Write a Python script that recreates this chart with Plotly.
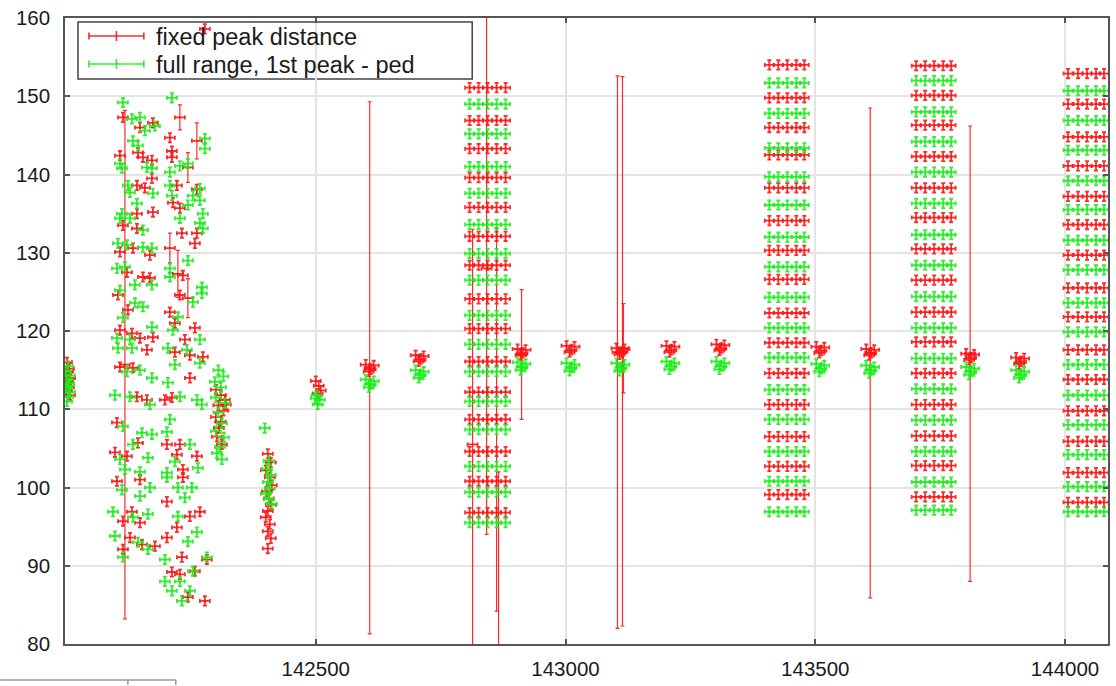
import plotly.graph_objects as go

# ---------------- data ----------------
# Scattered scan region, series "fixed peak distance"
red_spread = [
    (142114, 147.3), (142148, 146.0), (142174, 146.6), (142144, 142.8), (142108, 142.4),
    (142154, 142.2), (142172, 141.8), (142172, 139.5), (142142, 138.6), (142158, 138.3),
    (142142, 135.0), (142174, 135.2), (142208, 144.7), (142212, 143.0), (142212, 142.2),
    (142262, 138.1), (142222, 138.6), (142214, 136.4), (142228, 135.7), (142278, 158.6),
    (142114, 133.5), (142142, 133.1), (142108, 130.1), (142134, 130.6), (142168, 129.7),
    (142122, 127.5), (142154, 126.9), (142168, 126.8), (142104, 124.6), (142124, 122.7),
    (142108, 120.1), (142132, 119.7), (142148, 119.1), (142174, 119.2), (142232, 132.5),
    (142262, 132.5), (142258, 131.2), (142234, 127.1), (142228, 124.6), (142208, 122.4),
    (142218, 121.0), (142258, 120.4), (142238, 118.9), (142162, 117.6), (142108, 115.4),
    (142134, 115.3), (142142, 111.6), (142162, 111.2), (142102, 108.3), (142144, 105.7),
    (142098, 104.5), (142122, 104.0), (142218, 117.3), (142248, 116.9), (142274, 116.7),
    (142248, 114.0), (142198, 111.2), (142212, 111.5), (142202, 105.5), (142228, 105.5),
    (142262, 104.0), (142222, 104.2), (142234, 102.3), (142102, 100.8), (142148, 101.0),
    (142132, 96.9), (142114, 95.7), (142148, 95.5), (142128, 93.6), (142152, 92.7),
    (142114, 92.1), (142178, 92.5), (142234, 101.3), (142202, 98.2), (142268, 96.9),
    (142248, 96.3), (142222, 94.9), (142202, 93.6), (142232, 91.1), (142212, 89.2),
    (142258, 89.3), (142282, 90.8), (142228, 88.9), (142244, 86.0), (142278, 85.5),
]

# Scattered scan region, series "full range, 1st peak - ped"
green_spread = [
    (142114, 149.2), (142132, 147.1), (142148, 147.3), (142158, 145.6), (142178, 146.2),
    (142134, 144.3), (142144, 143.7), (142108, 141.4), (142112, 140.8), (142162, 140.9),
    (142172, 140.8), (142124, 138.6), (142128, 137.7), (142174, 137.6), (142142, 136.3),
    (142112, 135.0), (142212, 149.8), (142208, 140.3), (142208, 138.6), (142278, 144.6),
    (142278, 143.3), (142228, 141.1), (142244, 141.4), (142268, 138.2), (142254, 137.3),
    (142212, 137.3), (142268, 136.7), (142244, 136.1), (142274, 135.0),
    (142108, 134.4), (142128, 134.4), (142154, 132.9), (142104, 131.2), (142122, 131.0),
    (142154, 130.7), (142172, 130.6), (142102, 128.0), (142118, 128.2), (142172, 125.9),
    (142138, 125.9), (142108, 125.2), (142138, 123.6), (142154, 123.1), (142114, 121.7),
    (142172, 120.5), (142102, 119.1), (142128, 118.9), (142228, 134.4), (142268, 133.8),
    (142274, 133.1), (142244, 129.0), (142208, 128.0), (142208, 126.9), (142272, 125.6),
    (142272, 124.8), (142254, 123.7), (142224, 121.8), (142214, 120.1), (142268, 118.9),
    (142104, 117.8), (142132, 117.8), (142122, 114.8), (142148, 115.0), (142172, 114.0),
    (142098, 111.8), (142128, 111.6), (142168, 110.6), (142114, 107.8), (142152, 107.0),
    (142172, 106.8), (142134, 105.5), (142108, 103.6), (142164, 103.8), (142118, 102.3),
    (142148, 102.0), (142204, 117.8), (142242, 117.6), (142218, 115.7), (142268, 115.9),
    (142204, 113.4), (142228, 111.6), (142262, 111.2), (142272, 110.6), (142208, 108.7),
    (142202, 107.1), (142248, 105.5), (142218, 103.3), (142202, 101.9), (142264, 102.5),
    (142112, 99.7), (142168, 100.0), (142148, 98.9), (142094, 96.9), (142164, 96.6),
    (142134, 96.2), (142098, 93.8), (142144, 93.0), (142164, 92.1), (142114, 91.1),
    (142202, 101.3), (142224, 100.0), (142252, 100.0), (142238, 98.7), (142224, 96.3),
    (142262, 94.3), (142244, 93.1), (142198, 90.8), (142282, 91.1), (142254, 89.3),
    (142198, 88.0), (142228, 88.0), (142212, 86.8), (142248, 86.8), (142232, 85.5),
]

# Compact groups of runs
red_groups = [
    (142002, 116.0), (142006, 115.2), (142000, 114.5), (142008, 114.0), (142004, 113.6),
    (142000, 113.2), (142006, 112.8), (142002, 112.3), (142008, 111.8), (142004, 114.8),
    (142300, 112.5), (142310, 111.8), (142318, 111.2), (142305, 110.5), (142315, 109.8),
    (142300, 109.0), (142310, 108.4), (142320, 110.6), (142306, 107.6), (142312, 105.5),
    (142302, 106.5),
    (142404, 104.3), (142410, 103.2), (142400, 102.2), (142408, 101.3), (142412, 100.3),
    (142402, 99.5), (142406, 98.6), (142410, 97.8), (142404, 97.0), (142400, 96.2),
    (142408, 95.3), (142404, 94.4), (142410, 93.5), (142404, 92.2),
    (142500, 113.6), (142506, 113.0), (142510, 112.4), (142504, 112.0),
]
green_groups = [
    (142004, 115.5), (142000, 114.8), (142008, 114.3), (142002, 113.8), (142006, 113.3),
    (142000, 112.8), (142008, 112.2), (142004, 111.6), (142002, 111.0), (142006, 113.0),
    (142305, 115.0), (142315, 114.2), (142298, 113.5), (142310, 112.8), (142300, 111.5),
    (142318, 110.8), (142305, 109.6), (142312, 108.2), (142300, 107.2), (142316, 106.4),
    (142308, 105.2), (142302, 104.4), (142312, 103.6),
    (142398, 107.6), (142406, 103.4), (142402, 102.4), (142410, 101.6), (142404, 100.7),
    (142408, 99.9), (142400, 99.2), (142406, 98.5), (142412, 97.9),
    (142502, 111.8), (142508, 111.2), (142504, 110.6), (142500, 111.4),
]

# Single runs, four measurements each
red_runs = [
    (142600, 115.7), (142610, 115.1), (142616, 115.6), (142606, 114.8),
    (142700, 116.9), (142710, 116.4), (142716, 116.8), (142706, 116.1),
    (142904, 117.7), (142914, 117.2), (142920, 117.6), (142910, 116.9),
    (143002, 118.1), (143012, 117.6), (143018, 118.0), (143008, 117.3),
    (143102, 117.8), (143112, 117.3), (143118, 117.7), (143108, 117.0),
    (143202, 118.1), (143212, 117.6), (143218, 118.0), (143208, 117.3),
    (143302, 118.3), (143312, 117.8), (143318, 118.2), (143308, 117.5),
    (143502, 118.0), (143512, 117.5), (143518, 117.9), (143508, 117.2),
    (143602, 117.7), (143612, 117.2), (143618, 117.6), (143608, 116.9),
    (143802, 117.1), (143812, 116.6), (143818, 117.0), (143808, 116.3),
    (143902, 116.6), (143912, 116.1), (143918, 116.5), (143908, 115.8),
]
green_runs = [
    (142600, 113.8), (142610, 113.2), (142616, 113.6), (142606, 112.8),
    (142700, 115.0), (142710, 114.4), (142716, 114.8), (142706, 114.0),
    (142904, 116.0), (142914, 115.4), (142920, 115.8), (142910, 115.0),
    (143002, 115.9), (143012, 115.3), (143018, 115.7), (143008, 114.9),
    (143102, 115.9), (143112, 115.3), (143118, 115.7), (143108, 114.9),
    (143202, 116.1), (143212, 115.5), (143218, 115.9), (143208, 115.1),
    (143302, 116.1), (143312, 115.5), (143318, 115.9), (143308, 115.1),
    (143502, 115.8), (143512, 115.2), (143518, 115.6), (143508, 114.8),
    (143602, 115.6), (143612, 115.0), (143618, 115.4), (143608, 114.6),
    (143802, 115.4), (143812, 114.8), (143818, 115.2), (143808, 114.4),
    (143902, 115.0), (143912, 114.4), (143918, 114.8), (143908, 114.0),
]

# Points with large vertical uncertainty (x, y, dy), series "fixed peak distance"
red_wide = [
    (142118, 115.7, 32.5), (142228, 147.3, 1.6), (142262, 144.3, 2.3), (142244, 140.9, 1.9),
    (142208, 130.6, 1.9), (142224, 127.3, 3.0), (142244, 124.2, 2.5),
    (142608, 115.3, 34.0), (142912, 117.0, 8.3), (143104, 117.3, 35.3), (143114, 117.4, 35.1),
    (143116, 117.8, 5.7), (143610, 117.2, 31.3), (143810, 117.1, 29.1),
    (142814, 105.5, 27.5), (142842, 128.0, 34.0), (142862, 108.7, 24.5), (142866, 72.0, 30.0),
]

# Energy scans: channel positions and level of each row
scan1_x = [142808, 142826, 142844, 142862, 142880]
scan1_red = [151.1, 146.9, 143.3, 139.6, 135.8, 132.1, 128.4, 124.1, 120.3, 116.1,
             112.2, 108.7, 104.6, 100.8, 96.8]
scan1_green = [149.0, 145.2, 141.0, 137.6, 133.6, 129.9, 126.5, 122.0, 118.3, 114.8,
               111.0, 107.4, 102.7, 99.4, 95.5]

scan2_x = [143408, 143426, 143444, 143462, 143478]
scan2_red = [154.0, 149.8, 146.0, 142.5, 138.3, 134.1, 130.3, 126.6, 122.3, 118.5,
             114.6, 110.6, 106.5, 102.7, 99.1]
scan2_green = [151.7, 147.8, 143.4, 139.7, 136.1, 132.0, 128.2, 124.3, 120.4, 116.6,
               112.5, 108.7, 104.6, 100.8, 96.9]

scan3_x = [143702, 143720, 143738, 143756, 143772]
scan3_red = [153.9, 150.1, 146.3, 142.3, 138.3, 134.5, 130.5, 126.5, 122.4, 118.6,
             114.6, 110.6, 106.6, 102.8, 98.8]
scan3_green = [152.0, 148.0, 144.2, 140.3, 136.3, 132.3, 128.4, 124.4, 120.4, 116.5,
               112.6, 108.6, 104.6, 100.7, 97.1]

scan4_x = [144006, 144026, 144044, 144062, 144078]
scan4_red = [152.9, 149.0, 144.8, 141.1, 137.2, 133.6, 129.7, 125.5, 121.8, 117.6,
             113.8, 109.8, 105.9, 101.9, 98.1]
scan4_green = [150.7, 146.9, 143.1, 139.2, 135.5, 131.6, 127.8, 123.6, 119.9, 115.7,
               111.8, 108.0, 104.2, 100.1, 96.9]

# measurement uncertainties
DX_POINT, DY_POINT = 10, 0.6
DX_SCAN, DY_SCAN = 9, 0.6

x_ticks = [142500, 143000, 143500, 144000]
y_ticks = [80, 90, 100, 110, 120, 130, 140, 150, 160]
series_names = ["fixed peak distance", "full range, 1st peak - ped"]

# ---------------- drawing ----------------
RED = "rgba(255,20,20,0.9)"
GREEN = "rgba(25,238,25,0.9)"
FONT = "Liberation Sans"
BAR_W = 1.8

fig = go.Figure()


def err_points(pts, color, dx, dy):
    xs = [p[0] for p in pts]
    ys = [p[1] for p in pts]
    fig.add_trace(go.Scatter(
        x=xs, y=ys, mode="markers",
        marker=dict(size=2, color=color),
        error_x=dict(type="constant", value=dx, color=color, thickness=BAR_W, width=2),
        error_y=dict(type="constant", value=dy, color=color, thickness=BAR_W, width=2),
        showlegend=False, hoverinfo="skip"))


def scan_points(xs, rows):
    return [(x, r) for r in rows for x in xs]


# series 1 first, series 2 on top
err_points(red_spread, RED, DX_POINT, DY_POINT)
err_points(red_groups, RED, DX_POINT, DY_POINT)
err_points(red_runs, RED, DX_POINT, DY_POINT)
for sx, rows in [(scan1_x, scan1_red), (scan2_x, scan2_red),
                 (scan3_x, scan3_red), (scan4_x, scan4_red)]:
    err_points(scan_points(sx, rows), RED, DX_SCAN, DY_SCAN)

fig.add_trace(go.Scatter(
    x=[p[0] for p in red_wide], y=[p[1] for p in red_wide], mode="markers",
    marker=dict(size=2, color=RED),
    error_x=dict(type="constant", value=DX_POINT, color=RED, thickness=BAR_W, width=2),
    error_y=dict(type="data", array=[p[2] for p in red_wide], color=RED,
                 thickness=1.2, width=2),
    showlegend=False, hoverinfo="skip"))

err_points(green_spread, GREEN, DX_POINT, DY_POINT)
err_points(green_groups, GREEN, DX_POINT, DY_POINT)
err_points(green_runs, GREEN, DX_POINT, DY_POINT)
for sx, rows in [(scan1_x, scan1_green), (scan2_x, scan2_green),
                 (scan3_x, scan3_green), (scan4_x, scan4_green)]:
    err_points(scan_points(sx, rows), GREEN, DX_SCAN, DY_SCAN)

# plot-area geometry in pixels
W, H = 1116, 686
PL, PR, PT, PB = 65, 1110, 18, 645


def fx(p):
    return (p - PL) / (PR - PL)


def fy(p):
    return (PB - p) / (PB - PT)


shapes = []
annotations = []
# key box
shapes.append(dict(type="rect", xref="paper", yref="paper", layer="between",
                   x0=fx(78), x1=fx(473), y0=fy(79), y1=fy(22),
                   line=dict(color="#444", width=1.5), fillcolor="white"))
for i, (name, col) in enumerate(zip(series_names, [RED, GREEN])):
    yc = 36 + i * 28
    shapes.append(dict(type="line", xref="paper", yref="paper", x0=fx(89), x1=fx(144),
                       y0=fy(yc), y1=fy(yc), line=dict(color=col, width=1.6)))
    for xc, half in [(89, 3.5), (144, 3.5), (116.5, 5)]:
        shapes.append(dict(type="line", xref="paper", yref="paper", x0=fx(xc), x1=fx(xc),
                           y0=fy(yc - half), y1=fy(yc + half),
                           line=dict(color=col, width=1.6)))
    annotations.append(dict(xref="paper", yref="paper", x=fx(154), y=fy(yc + 1),
                            xanchor="left", yanchor="middle", showarrow=False,
                            text=name, font=dict(family=FONT, size=23.5, color="#1a1a1a")))

# window frame strip at the bottom-left corner
shapes.append(dict(type="line", xref="paper", yref="paper", x0=fx(0), x1=fx(176),
                   y0=fy(681), y1=fy(681), line=dict(color="#9a9a9a", width=1.5)))
for xv in [128, 176]:
    shapes.append(dict(type="line", xref="paper", yref="paper", x0=fx(xv), x1=fx(xv),
                       y0=fy(681), y1=fy(686), line=dict(color="#9a9a9a", width=1.5)))

axis_common = dict(
    showgrid=True, gridcolor="#e4e4e4", gridwidth=1.5,
    showline=True, linecolor="#555", linewidth=1.5, mirror="ticks",
    ticks="inside", ticklen=5, tickcolor="#555", tickwidth=1.5,
    zeroline=False, tickfont=dict(family=FONT, size=20.5, color="#1a1a1a"),
)

fig.update_layout(
    width=W, height=H,
    margin=dict(l=PL, r=W - PR, t=PT, b=H - PB),
    paper_bgcolor="white", plot_bgcolor="white",
    showlegend=False,
    xaxis=dict(range=[141998, 144086], tickvals=x_ticks,
               ticktext=[str(v) for v in x_ticks], ticklabelstandoff=6, **axis_common),
    yaxis=dict(range=[80, 160], tickvals=y_ticks,
               ticktext=[str(v) for v in y_ticks], ticklabelstandoff=9, **axis_common),
    shapes=shapes,
    annotations=annotations,
)

fig.write_html("out.html")
